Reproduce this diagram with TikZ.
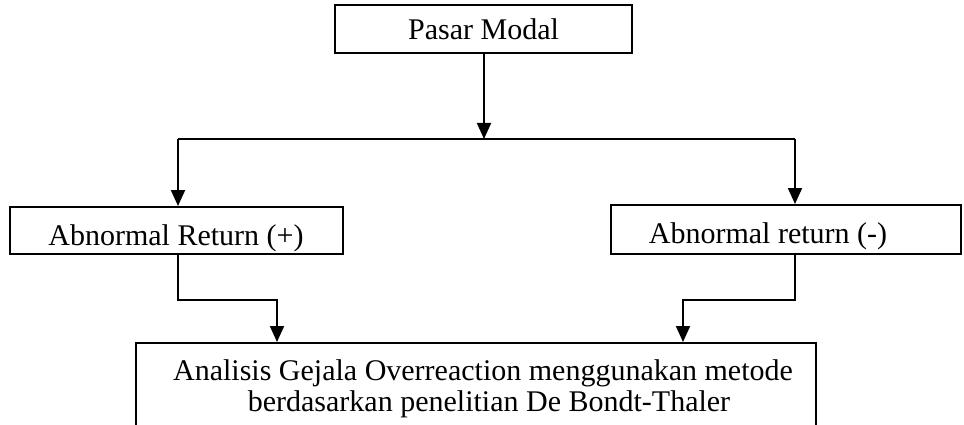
\documentclass[tikz,border=0pt]{standalone}
\usepackage{fontspec}
\setmainfont{Liberation Serif}
\usetikzlibrary{arrows.meta}
\begin{document}
\begin{tikzpicture}[x=1pt,y=-1pt,line width=2pt,
  box/.style={draw,line width=2pt,inner sep=0pt},
  txt/.style={inner sep=0pt,anchor=base,font=\fontsize{30}{35}\selectfont},
  arr/.style={-{Triangle[width=14pt,length=16pt]}}]
\clip (0,0) rectangle (964,425);
% boxes
\node[box,minimum width=297pt,minimum height=48pt] (pm) at (483.5,29) {};
\node[box,minimum width=333pt,minimum height=47pt] (ar1) at (176.5,230.5) {};
\node[box,minimum width=350pt,minimum height=49pt] (ar2) at (786,229.5) {};
\node[box,minimum width=680pt,minimum height=110pt,anchor=north west] (an) at (135,342) {};
% texts
\node[txt] (tpm) at (483.5,39.5) {Pasar Modal};
\node[txt] (tar1) at (176,245) {Abnormal Return (+)};
\node[txt] (tar2) at (768,243) {Abnormal return (-)};
\node[txt] (tan1) at (483,380) {Analisis Gejala Overreaction menggunakan metode};
\node[txt] (tan2) at (489,411) {berdasarkan penelitian De Bondt-Thaler};
% connectors
\coordinate (j) at (484,139);
\coordinate (jl) at (178,139);
\coordinate (jr) at (795,139);
\coordinate (al) at (277,300);
\coordinate (ar) at (683,300);
\draw[arr] (pm.south -| j) -- (j);
\draw (jl) -- (jr);
\draw[arr] (jl) -- (jl |- ar1.north);
\draw[arr] (jr) -- (jr |- ar2.north);
\draw[arr] (ar1.south -| jl) |- (al) -- (al |- an.north);
\draw[arr] (ar2.south -| jr) |- (ar) -- (ar |- an.north);
\end{tikzpicture}
\end{document}
